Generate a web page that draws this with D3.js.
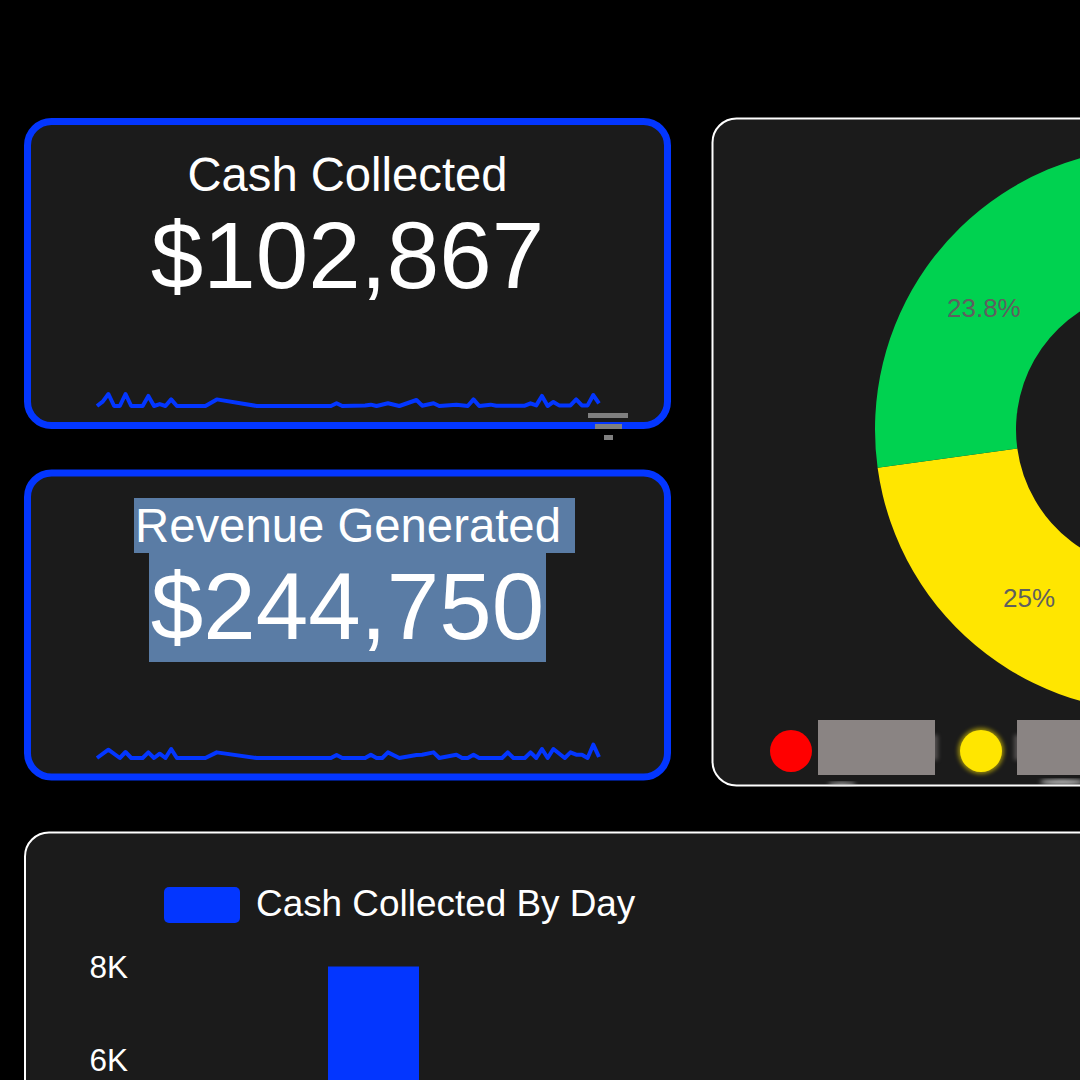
<!DOCTYPE html>
<html>
<head>
<meta charset="utf-8">
<script src="https://d3js.org/d3.v7.min.js"></script>
<style>
    html, body { margin: 0; background: #000; overflow: hidden; }
    text { font-family: "Liberation Sans", Arial, sans-serif; }
</style>
</head>
<body>
<svg id="chart" width="1080" height="1080"></svg>
<script>
// daily series for the two sparklines, only the days where the line changes direction
const cashDays = [0,1,2,3,4,5,6,8,9,10,11,12,13,14,19,21,28,41,42,43,47,48,49,51,53,56,57,59,60,63,65,66,67,69,70,75,76,77,78,79,80,81,83,84,85,86,87,88];
const cashValues = [0,2.9,8,0,0,8,0,0,6.7,0,1.3,0,4.4,0,0,4.4,0,0,1.8,0,0.4,0.9,0,1.8,0,4,0.2,1.8,0,0.9,0,4.4,0,0.9,0.2,0.2,1.8,0.4,6.7,0,2.7,0.4,0.4,4.4,0.4,0.4,7.3,1.8];

const revenueDays = [0,2,4,5,6,8,9,10,11,12,13,14,19,21,28,41,42,43,47,48,49,50,51,53,56,57,59,60,63,64,65,66,67,71,72,73,75,76,77,78,79,80,82,83,84,85,86,87,88];
const revenueValues = [0,13.3,0,9.6,0,0,9,0,6.9,0,14.4,0,0,9,0,0,4.8,0,0,5.3,0,0,9,0,4.8,5.3,9,0,5.3,0,0,5.3,0,0,9,0,0,9,0,14.4,0,14.4,0,9,5.3,5.3,0,21.3,1.6];

const donutLabels = ["Red", "Yellow", "Green"];
const donutValues = [51.2, 25, 23.8];
const donutColors = ["#ff0000", "#ffe600", "#00d250"];
const donutShown = ["Yellow", "Green"]; // the red slice's label is off the picture

const barDays = ["Day 1", "Day 2", "Day 3", "Day 4", "Day 5", "Day 6", "Day 7", "Day 8"];
const barValues = [null, 8, null, null, null, null, null, null];
const barTicks = [6, 8];

const BLUE = "#0336ff";
const PANEL = "#1b1b1b";

const svg = d3.select("#chart");

// soft smudges left around the legend in the picture
const blur = svg.append("defs").append("filter")
    .attr("id", "smudge")
    .attr("x", "-50%").attr("y", "-50%")
    .attr("width", "200%").attr("height", "200%");
blur.append("feGaussianBlur").attr("stdDeviation", 2);

function panel(x, y, w, h, stroke, strokeWidth) {
    svg.append("rect")
        .attr("x", x).attr("y", y)
        .attr("width", w).attr("height", h)
        .attr("rx", 24).attr("ry", 24)
        .attr("fill", PANEL)
        .attr("stroke", stroke)
        .attr("stroke-width", strokeWidth);
}

function label(x, y, txt, size, color, anchor) {
    return svg.append("text")
        .attr("x", x).attr("y", y)
        .attr("font-size", size)
        .attr("fill", color)
        .attr("text-anchor", anchor || "middle")
        .text(txt);
}

function sparkline(days, values, yMax, yBottom, yTop) {
    const x = d3.scaleLinear().domain([0, 88]).range([97, 599]);
    const y = d3.scaleLinear().domain([0, yMax]).range([yBottom, yTop]);
    const line = d3.line().x(d => x(d[0])).y(d => y(d[1]));
    svg.append("path")
        .datum(d3.zip(days, values))
        .attr("d", line)
        .attr("fill", "none")
        .attr("stroke", BLUE)
        .attr("stroke-width", 4)
        .attr("stroke-linejoin", "round");
}

// KPI cards
panel(27.5, 121.5, 640, 304, BLUE, 7);
panel(27.5, 473, 640, 304, BLUE, 7);

label(347.5, 191, "Cash Collected", 47.2, "#fff");
label(347.5, 288, "$102,867", 94.3, "#fff");
sparkline(cashDays, cashValues, 8, 406, 394);

// selected text highlight
svg.append("rect").attr("x", 134).attr("y", 498).attr("width", 441).attr("height", 55).attr("fill", "#5a7ca5");
svg.append("rect").attr("x", 149).attr("y", 553).attr("width", 397).attr("height", 109).attr("fill", "#5a7ca5");
label(135, 542, "Revenue Generated", 47.3, "#fff", "start");
label(347.5, 639, "$244,750", 94.3, "#fff");
sparkline(revenueDays, revenueValues, 20, 758, 745.5);

// filter icon sits on top of the first card
[[588, 40], [595, 27], [604, 9]].forEach((b, i) => {
    svg.append("rect")
        .attr("x", b[0]).attr("y", 413 + i * 11)
        .attr("width", b[1]).attr("height", 5)
        .attr("fill", "#7f7f7f");
});

// donut panel
panel(712.5, 118.5, 500, 667, "#fff", 2);

const pie = d3.pie().sort(null)
    .startAngle(-12.1 * Math.PI / 180)
    .endAngle((360 - 12.1) * Math.PI / 180);
const arc = d3.arc().innerRadius(141).outerRadius(282);
const donut = svg.append("g").attr("transform", "translate(1157,429.5)");
const slices = pie(donutValues);

donut.selectAll("path")
    .data(slices)
    .join("path")
    .attr("d", arc)
    .attr("fill", (d, i) => donutColors[i]);

donut.selectAll("text")
    .data(slices.filter(d => donutShown.includes(donutLabels[d.index])))
    .join("text")
    .attr("transform", d => "translate(" + arc.centroid(d) + ")")
    .attr("text-anchor", "middle")
    .attr("dy", "0.33em")
    .attr("font-size", 26)
    .attr("fill", "#5f5f5f")
    .text(d => d.data + "%");

// legend, names are covered by grey boxes in the picture
svg.append("circle").attr("cx", 791).attr("cy", 751).attr("r", 21).attr("fill", donutColors[0]);
svg.append("circle").attr("cx", 981).attr("cy", 751).attr("r", 23).attr("fill", donutColors[1]).attr("opacity", 0.55).attr("filter", "url(#smudge)");
svg.append("circle").attr("cx", 981).attr("cy", 751).attr("r", 21).attr("fill", donutColors[1]);
svg.append("rect").attr("x", 930).attr("y", 735).attr("width", 8).attr("height", 25).attr("fill", "#8a8483").attr("opacity", 0.5).attr("filter", "url(#smudge)");
svg.append("rect").attr("x", 1014).attr("y", 735).attr("width", 8).attr("height", 25).attr("fill", "#8a8483").attr("opacity", 0.5).attr("filter", "url(#smudge)");
svg.append("rect").attr("x", 818).attr("y", 720).attr("width", 117).attr("height", 55).attr("fill", "#8a8483");
svg.append("rect").attr("x", 1017).attr("y", 720).attr("width", 80).attr("height", 55).attr("fill", "#8a8483");
svg.append("ellipse").attr("cx", 842).attr("cy", 784).attr("rx", 14).attr("ry", 1.5).attr("fill", "#cfcfcf").attr("filter", "url(#smudge)");
svg.append("ellipse").attr("cx", 1062).attr("cy", 782).attr("rx", 22).attr("ry", 2).attr("fill", "#e0e0e0").attr("filter", "url(#smudge)");

// bar panel
panel(25, 832.5, 1100, 400, "#fff", 2);

svg.append("rect").attr("x", 164).attr("y", 887).attr("width", 76).attr("height", 36).attr("rx", 5).attr("fill", BLUE);
label(256, 916, "Cash Collected By Day", 36.9, "#fff", "start");

const yBar = d3.scaleLinear().domain([0, 8]).range([1338.5, 966.5]);
const xBar = d3.scaleBand().domain(barDays).range([210, 210 + 8 * 118 - 27]).paddingInner(27 / 118);

const yAxis = d3.axisLeft(yBar)
    .tickValues(barTicks)
    .tickFormat(d => d + "K")
    .tickSize(0)
    .tickPadding(0);

const yAxisG = svg.append("g").attr("transform", "translate(128,1)").call(yAxis);
yAxisG.select(".domain").remove();
yAxisG.selectAll("text").attr("font-size", 31.5).attr("fill", "#fff").attr("font-family", "Liberation Sans");

svg.selectAll("rect.bar")
    .data(barDays.map((d, i) => [d, barValues[i]]).filter(d => d[1] !== null))
    .join("rect")
    .attr("class", "bar")
    .attr("x", d => xBar(d[0]))
    .attr("y", d => yBar(d[1]))
    .attr("width", xBar.bandwidth())
    .attr("height", d => yBar(0) - yBar(d[1]))
    .attr("fill", BLUE);
</script>
</body>
</html>
